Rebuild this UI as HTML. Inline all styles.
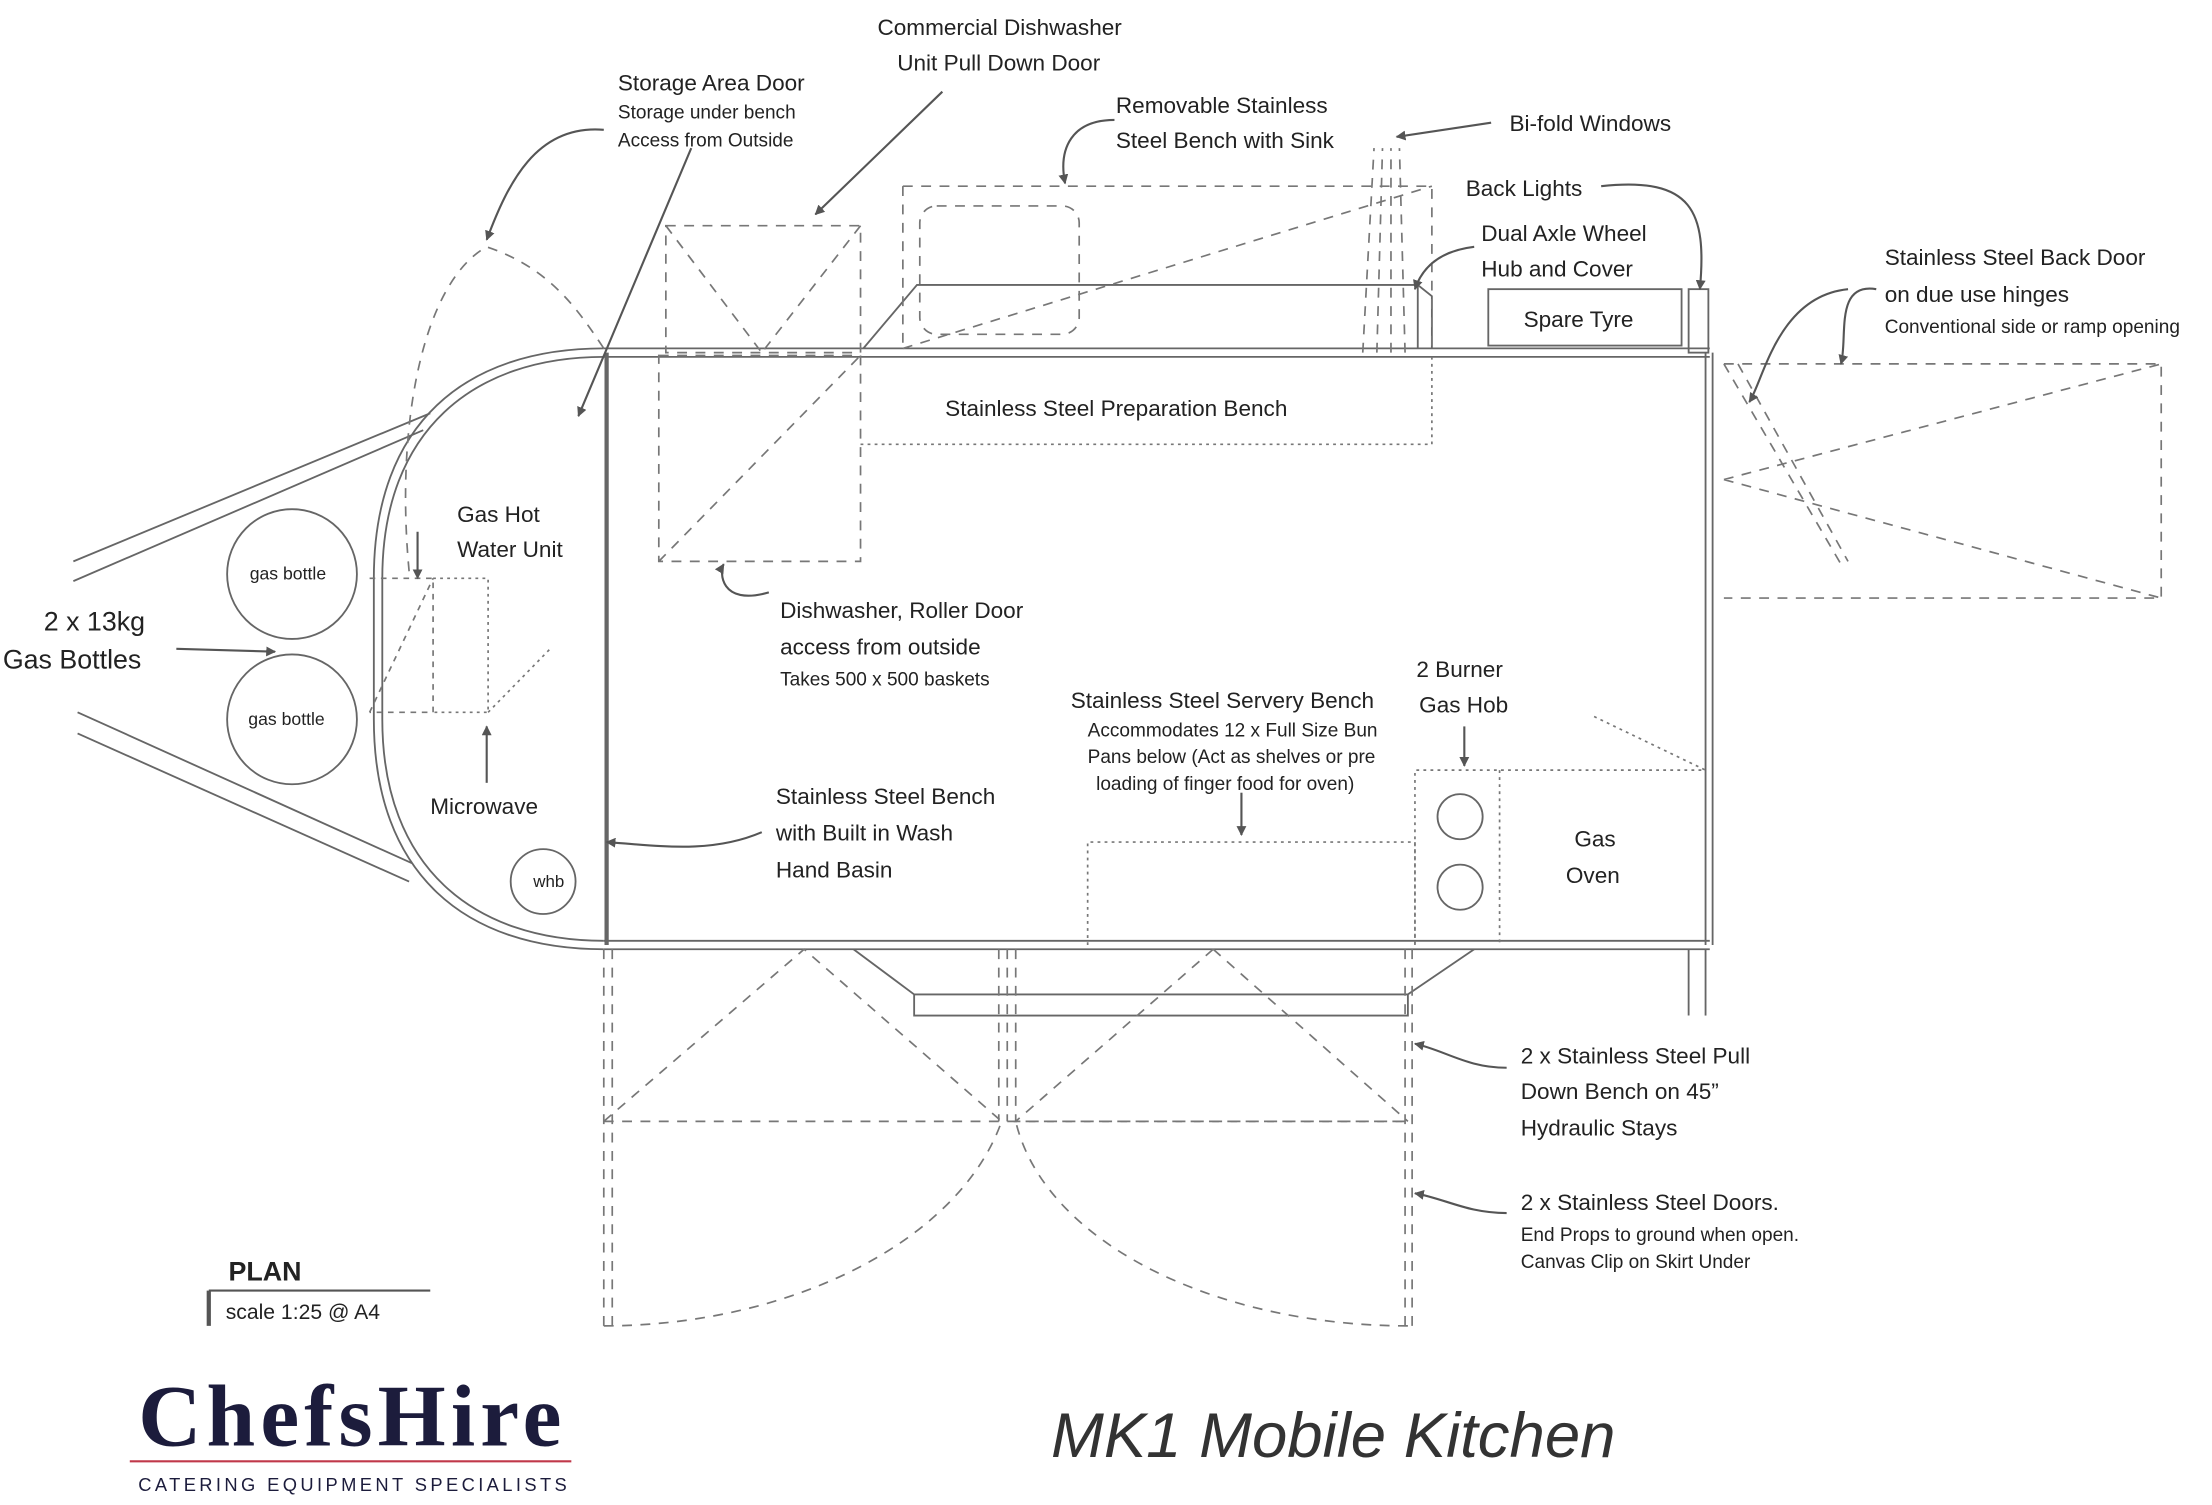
<!DOCTYPE html>
<html><head><meta charset="utf-8"><style>
html,body{margin:0;padding:0;background:#fff;}
svg{display:block;}
text{font-family:"Liberation Sans",sans-serif;fill:#222;}
</style></head><body>
<svg width="2212" height="1505" viewBox="0 0 1568 1067" preserveAspectRatio="none" xmlns="http://www.w3.org/2000/svg">
<defs><marker id="a" viewBox="0 0 10 10" refX="9" refY="5" markerWidth="7" markerHeight="7" orient="auto" markerUnits="userSpaceOnUse"><path d="M0,0 L10,5 L0,10 z" fill="#555"/></marker></defs>
<rect width="1568" height="1067" fill="#fff"/>
<g fill="none" stroke="#666" stroke-width="1.3">
<line x1="52" y1="398" x2="305" y2="293"/><line x1="52" y1="412" x2="300" y2="305"/>
<line x1="55" y1="505" x2="292" y2="612"/><line x1="55" y1="520" x2="290" y2="625"/>
<path d="M428,247 L1212,247 M428,253 L1212,253 M428,667 L1212,667 M428,673 L1212,673"/>
<path d="M428,247 C330,247 265,300 265,410 L265,510 C265,620 330,673 428,673"/>
<path d="M428,253 C336,253 271,305 271,410 L271,510 C271,615 336,667 428,667"/>
<line x1="430" y1="250" x2="430" y2="670" stroke-width="3"/>
<line x1="1209" y1="250" x2="1209" y2="670"/><line x1="1214" y1="250" x2="1214" y2="670"/>
<circle cx="207" cy="407" r="46"/><circle cx="207" cy="510" r="46"/>
<circle cx="385" cy="625" r="23"/>
<circle cx="1035" cy="579" r="16"/><circle cx="1035" cy="629" r="16"/>
<rect x="1055" y="205" width="137" height="40"/>
<rect x="1197" y="205" width="14" height="45"/>
<line x1="1197" y1="673" x2="1197" y2="720"/><line x1="1209" y1="673" x2="1209" y2="720"/>
<path d="M605,673 L648,705 L648,720 L998,720 L998,705 L1045,673"/>
<line x1="648" y1="705" x2="998" y2="705"/>
<path d="M612,247 L650,202 L1005,202 L1015,210 L1015,247"/>
<line x1="1005" y1="202" x2="1005" y2="247"/>
</g>
<g fill="none" stroke="#777" stroke-width="1.2" stroke-dasharray="7,6">
<path d="M640,132 L1015,132 L1015,247 M640,132 L640,247"/>
<rect x="652" y="146" width="113" height="91" rx="12"/>
<line x1="640" y1="247" x2="1015" y2="132"/>
<rect x="472" y="160" width="138" height="90"/>
<line x1="472" y1="160" x2="540" y2="250"/><line x1="610" y1="160" x2="540" y2="250"/>
<rect x="467" y="252" width="143" height="146"/>
<line x1="467" y1="398" x2="610" y2="252"/>
<path d="M610,315 L1015,315 L1015,253" stroke-dasharray="2,3"/>
<path d="M290,405 C280,300 300,200 345,175 C390,190 410,220 428,247"/>
<path d="M1222,258 L1532,258 L1532,424 L1222,424 M1222,340 L1532,258 M1222,340 L1532,424"/>
<path d="M1222,258 L1305,400 M1232,258 L1310,398"/>
<path d="M307,410 L346,410 L346,505 L307,505 M346,505 L390,460" stroke-dasharray="2,3"/>
<path d="M262,410 L307,410 L307,505 L262,505 M262,505 L307,410" stroke-dasharray="4,4"/>
<path d="M771,670 L771,597 L1003,597 L1003,670" stroke-dasharray="2,3"/>
<path d="M1003,670 L1003,546 L1209,546 M1063,546 L1063,670" stroke-dasharray="2,3"/>
<path d="M1130,508 L1209,546" stroke-dasharray="2,3"/>
<path d="M428,795 L998,795"/>
<path d="M428,795 L570,673 L710,795 M860,673 L720,795 L998,795 M860,673 L998,795"/>
<path d="M428,940 C560,940 680,880 710,795 M998,940 C860,940 740,880 720,795"/>
<path d="M428,673 L428,945 M434,673 L434,945 M996,673 L996,945 M1001,673 L1001,945"/>
<path d="M708,673 L708,795 M714,673 L714,795 M720,673 L720,795"/>
<path d="M966,250 L974,105 M976,250 L980,105 M986,250 L986,105 M996,250 L992,105"/>
</g>
<g fill="none" stroke="#555" stroke-width="1.5" marker-end="url(#a)">
<path d="M428,92 C380,88 360,130 345,170"/><path d="M490,105 L410,295"/>
<path d="M668,65 L578,152"/><path d="M790,85 C760,85 750,105 755,130"/>
<path d="M1057,87 L990,97"/><path d="M1135,132 C1200,125 1210,150 1205,205"/>
<path d="M1045,175 C1020,178 1008,190 1003,205"/>
<path d="M1330,205 C1300,200 1310,240 1305,258"/><path d="M1310,205 C1260,210 1250,270 1240,285"/>
<path d="M296,377 L296,410"/><path d="M345,555 L345,515"/>
<path d="M125,460 L195,462"/><path d="M545,420 C510,430 510,405 513,400"/>
<path d="M540,590 C505,605 470,600 430,597"/>
<path d="M880,562 L880,592"/><path d="M1038,515 L1038,543"/>
<path d="M1068,757 C1040,757 1025,745 1003,740"/><path d="M1068,860 C1040,860 1025,850 1003,846"/>
</g>
<g fill="none" stroke="#555" stroke-width="1.5">
<line x1="148" y1="915" x2="305" y2="915"/><line x1="148" y1="915" x2="148" y2="940" stroke-width="3"/>
</g>
<g font-size="16">
<text x="438" y="64">Storage Area Door</text>
<text x="438" y="84" font-size="13.5">Storage under bench</text>
<text x="438" y="104" font-size="13.5">Access from Outside</text>
<text x="622" y="25">Commercial Dishwasher</text>
<text x="636" y="50">Unit Pull Down Door</text>
<text x="791" y="80">Removable Stainless</text>
<text x="791" y="105">Steel Bench with Sink</text>
<text x="1070" y="93">Bi-fold Windows</text>
<text x="1039" y="139">Back Lights</text>
<text x="1050" y="171">Dual Axle Wheel</text>
<text x="1050" y="196">Hub and Cover</text>
<text x="1080" y="232">Spare Tyre</text>
<text x="1336" y="188">Stainless Steel Back Door</text>
<text x="1336" y="214">on due use hinges</text>
<text x="1336" y="236" font-size="13.5">Conventional side or ramp opening</text>
<text x="670" y="295">Stainless Steel Preparation Bench</text>
<text x="324" y="370">Gas Hot</text>
<text x="324" y="395">Water Unit</text>
<text x="31" y="447" font-size="19">2 x 13kg</text>
<text x="2" y="474" font-size="19">Gas Bottles</text>
<text x="553" y="438">Dishwasher, Roller Door</text>
<text x="553" y="464">access from outside</text>
<text x="553" y="486" font-size="13.5">Takes 500 x 500 baskets</text>
<text x="759" y="502">Stainless Steel Servery Bench</text>
<text x="771" y="522" font-size="13.5">Accommodates 12 x Full Size Bun</text>
<text x="771" y="541" font-size="13.5">Pans below (Act as shelves or pre</text>
<text x="777" y="560" font-size="13.5">loading of finger food for oven)</text>
<text x="1004" y="480">2 Burner</text>
<text x="1006" y="505">Gas Hob</text>
<text x="305" y="577">Microwave</text>
<text x="550" y="570">Stainless Steel Bench</text>
<text x="550" y="596">with Built in Wash</text>
<text x="550" y="622">Hand Basin</text>
<text x="1116" y="600">Gas</text>
<text x="1110" y="626">Oven</text>
<text x="1078" y="754">2 x Stainless Steel Pull</text>
<text x="1078" y="779">Down Bench on 45”</text>
<text x="1078" y="805">Hydraulic Stays</text>
<text x="1078" y="858">2 x Stainless Steel Doors.</text>
<text x="1078" y="880" font-size="13.5">End Props to ground when open.</text>
<text x="1078" y="899" font-size="13.5">Canvas Clip on Skirt Under</text>
<text x="177" y="411" font-size="12.5" fill="#444">gas bottle</text>
<text x="176" y="514" font-size="12.5" fill="#444">gas bottle</text>
<text x="378" y="629" font-size="12" fill="#444">whb</text>
<text x="162" y="908" font-size="19" font-weight="bold">PLAN</text>
<text x="160" y="935" font-size="15">scale 1:25 @ A4</text>
</g>
<text x="98" y="1025" font-size="62" font-weight="bold" style="font-family:'Liberation Serif',serif;fill:#1c1c3c" textLength="300" lengthAdjust="spacing">ChefsHire</text>
<line x1="92" y1="1036" x2="405" y2="1036" stroke="#c0384a" stroke-width="1.5"/>
<text x="98" y="1057" font-size="13" letter-spacing="2.4" style="fill:#1c1c3c">CATERING EQUIPMENT SPECIALISTS</text>
<text x="745" y="1033" font-size="45" font-style="italic" style="fill:#333">MK1 Mobile Kitchen</text>
</svg>
</body></html>
